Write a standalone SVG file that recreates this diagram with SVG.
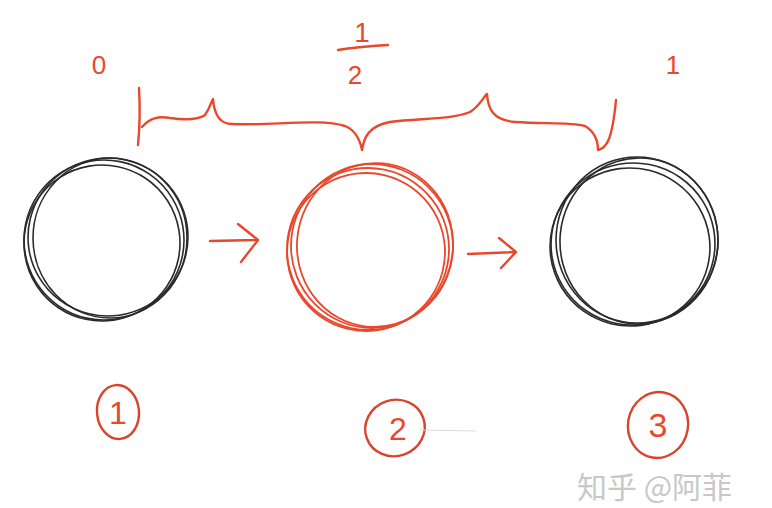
<svg xmlns="http://www.w3.org/2000/svg" width="772" height="508" viewBox="0 0 772 508">
<style>
.blk{fill:none;stroke:#2a2a2a;stroke-width:1.6}
.red{fill:none;stroke:#e8482c;stroke-width:2.4;stroke-linecap:round;stroke-linejoin:round}
.redt{fill:none;stroke:#e8482c;stroke-width:1.8}
.lbl{font-family:"Liberation Sans",Arial,sans-serif;fill:#e8482c;text-anchor:middle}
.circ{fill:none;stroke:#d9452c;stroke-width:2.4}
.wm{font-family:"Noto Sans CJK SC","Noto Sans",sans-serif;fill:#c8c8c8;font-size:30px}
</style>
<rect width="772" height="508" fill="#ffffff"/>
<g id="node1">
<ellipse class="blk" cx="108" cy="237" rx="80" ry="79" transform="rotate(-8 108 237)"/>
<ellipse class="blk" cx="104" cy="240" rx="80" ry="80" transform="rotate(-10 104 240)"/>
<ellipse class="blk" cx="110" cy="238" rx="77" ry="80"/>
<ellipse class="blk" cx="102" cy="243" rx="78" ry="78" transform="rotate(12 102 243)"/>
</g>
<g id="node2">
<ellipse class="redt" cx="372" cy="246" rx="81" ry="82"/>
<ellipse class="redt" cx="368" cy="249" rx="81" ry="81" transform="rotate(-10 368 249)"/>
<ellipse class="redt" cx="375" cy="245" rx="78" ry="82" transform="rotate(6 375 245)"/>
<ellipse class="redt" cx="366" cy="252" rx="79" ry="79" transform="rotate(14 366 252)"/>
</g>
<g id="node3">
<ellipse class="blk" cx="637" cy="240" rx="81" ry="83"/>
<ellipse class="blk" cx="633" cy="244" rx="82" ry="81" transform="rotate(-10 633 244)"/>
<ellipse class="blk" cx="639" cy="241" rx="79" ry="83" transform="rotate(5 639 241)"/>
<ellipse class="blk" cx="630" cy="247" rx="80" ry="79" transform="rotate(14 630 247)"/>
</g>
<g id="connectors">
<path class="red" d="M210 241 L256 240 M238 224 L258 240 L241 262"/>
<path class="red" d="M468 254 L515 252 M499 238 L516 252 L501 268"/>
</g>
<g id="brace">
<path class="red" d="M139 88 C140 105 140 125 138 145"/>
<path class="red" d="M142 127 C150 118 158 116 170 118 C185 120 198 120 205 115 C210 108 212 100 213 99 C214 112 218 124 232 124 C270 126 320 118 345 126 C355 130 360 140 362 150 C364 138 368 126 390 122 C420 118 450 120 470 112 C480 106 484 96 487 94 C488 108 492 120 515 122 C545 124 570 122 585 126 C595 132 598 142 598 150 C606 148 612 142 616 100"/>
</g>
<g id="labels">
<text class="lbl" x="99" y="74" font-size="26">0</text>
<text class="lbl" x="362" y="42" font-size="28">1</text>
<path class="red" d="M338 50 C350 48 372 46 388 45"/>
<text class="lbl" x="355" y="84" font-size="26">2</text>
<text class="lbl" x="673" y="74" font-size="26">1</text>
</g>
<g id="circled">
<ellipse class="circ" cx="118" cy="412" rx="21" ry="27" transform="rotate(-5 118 412)"/>
<text class="lbl" x="118" y="424" font-size="32">1</text>
<ellipse class="circ" cx="395" cy="428" rx="30" ry="28" transform="rotate(-20 395 428)"/>
<text class="lbl" x="398" y="440" font-size="32">2</text>
<path d="M420 430 L476 431" stroke="#dcdcdc" stroke-width="1.2"/>
<ellipse class="circ" cx="658" cy="425" rx="30" ry="33" transform="rotate(10 658 425)"/>
<text class="lbl" x="658" y="437" font-size="34">3</text>
</g>
<text class="wm" x="577" y="498">知乎 @阿菲</text>
</svg>
